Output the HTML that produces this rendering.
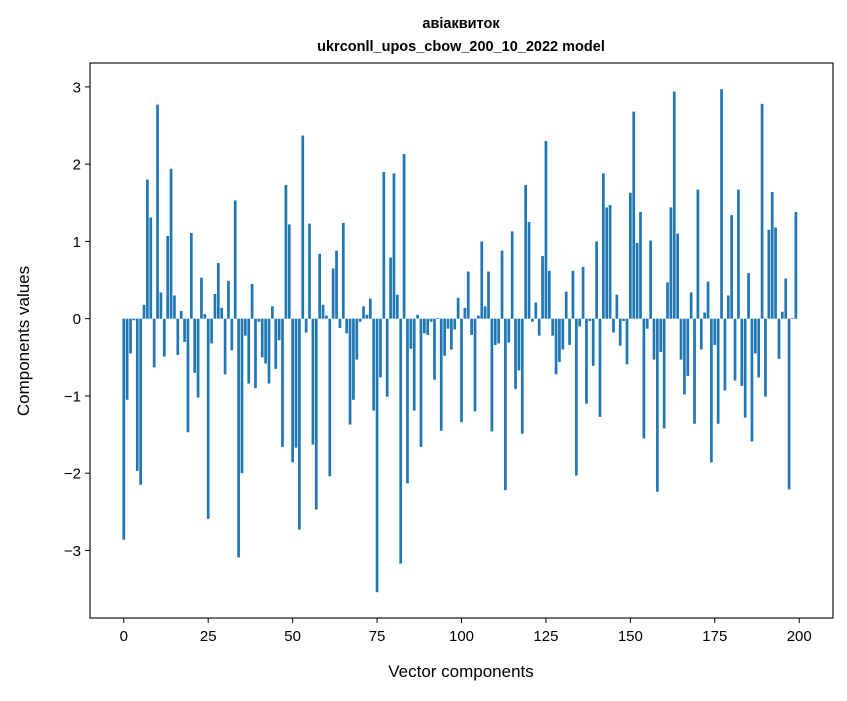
<!DOCTYPE html>
<html><head><meta charset="utf-8"><style>
body{margin:0;background:#fff;}
svg text{font-family:"Liberation Sans","DejaVu Sans",sans-serif;}
</style></head><body>
<svg id="chart" width="847" height="696" viewBox="0 0 847 696" xmlns="http://www.w3.org/2000/svg">
<rect width="847" height="696" fill="#fff"/>
<text x="461" y="28" text-anchor="middle" font-size="14.5" font-weight="bold">авіаквиток</text>
<text x="461" y="51" text-anchor="middle" font-size="14.5" font-weight="bold">ukrconll_upos_cbow_200_10_2022 model</text>
<g id="bars"></g>
<g id="axes"></g>
<text x="461" y="677" text-anchor="middle" font-size="17">Vector components</text>
<text transform="translate(29,341) rotate(-90)" text-anchor="middle" font-size="17">Components values</text>
</svg>
<script>
const values = [
-2.86,-1.05,-0.45,-0.02,-1.97,-2.15,0.18,1.80,1.31,-0.63,
2.77,0.34,-0.49,1.07,1.94,0.30,-0.47,0.10,-0.30,-1.47,
1.11,-0.70,-1.02,0.53,0.06,-2.59,-0.32,0.32,0.72,0.14,
-0.72,0.49,-0.41,1.53,-3.09,-2.00,-0.22,-0.84,0.45,-0.90,
-0.04,-0.50,-0.58,-0.84,0.16,-0.65,-0.28,-1.66,1.73,1.22,
-1.86,-1.67,-2.73,2.37,-0.18,1.23,-1.63,-2.47,0.84,0.18,
0.04,-2.04,0.65,0.88,-0.12,1.24,-0.19,-1.37,-1.05,-0.53,
-0.04,0.16,0.05,0.26,-1.19,-3.54,-0.76,1.90,-1.01,0.79,
1.88,0.31,-3.17,2.13,-2.13,-0.39,-1.19,0.05,-1.66,-0.19,
-0.21,-0.04,-0.79,0.01,-1.45,-0.48,-0.13,-0.40,-0.14,0.27,
-1.34,0.14,0.61,-0.21,-1.20,0.04,1.00,0.16,0.61,-1.46,
-0.34,-0.32,0.88,-2.22,-0.31,1.13,-0.91,-0.67,-1.49,1.73,
1.25,-0.04,0.21,-0.22,0.81,2.30,0.62,-0.22,-0.72,-0.56,
-0.40,0.35,-0.34,0.62,-2.03,-0.10,0.67,-1.10,-0.03,-0.61,
1.00,-1.27,1.88,1.44,1.47,-0.18,0.31,-0.35,-0.03,-0.59,
1.63,2.68,0.98,1.38,-1.55,-0.13,1.01,-0.53,-2.24,-0.43,
-1.42,0.47,1.44,2.94,1.10,-0.53,-0.98,-0.74,0.34,-1.36,
1.67,-0.40,0.08,0.48,-1.86,-0.34,-1.36,2.97,-0.93,0.30,
1.34,-0.80,1.67,-0.87,-1.28,0.59,-1.59,-0.45,-0.76,2.78,
-1.01,1.15,1.64,1.18,-0.52,0.09,0.52,-2.21,0.01,1.38
];
const xTicks = [0,25,50,75,100,125,150,175,200];
const yTicks = [-3,-2,-1,0,1,2,3];
const L=90,R=833,T=63,B=618;
const xMin=-10,xMax=210,yMin=-3.874,yMax=3.309;
function xs(v){return L+(v-xMin)/(xMax-xMin)*(R-L);}
function ys(v){return T+(yMax-v)/(yMax-yMin)*(B-T);}
const NS="http://www.w3.org/2000/svg";
const bars=document.getElementById('bars');
const bw=(xs(0.8)-xs(0));
values.forEach((v,i)=>{
  const r=document.createElementNS(NS,'rect');
  
  
  const y0=ys(0),y1=ys(v);
  r.setAttribute('x',xs(i)-bw/2);
  r.setAttribute('width',bw);
  r.setAttribute('y',Math.min(y0,y1));
  r.setAttribute('height',Math.abs(y1-y0));
  r.setAttribute('fill','#1f77b4');
  bars.appendChild(r);
});
const ax=document.getElementById('axes');
const frame=document.createElementNS(NS,'rect');


frame.setAttribute('x',L);frame.setAttribute('y',T);
frame.setAttribute('width',R-L);frame.setAttribute('height',B-T);
frame.setAttribute('fill','none');frame.setAttribute('stroke','#000');frame.setAttribute('stroke-width','1.1');
ax.appendChild(frame);
xTicks.forEach(t=>{
  const x=xs(t);
  const l=document.createElementNS(NS,'line');
  
  
  l.setAttribute('x1',x);l.setAttribute('x2',x);l.setAttribute('y1',B);l.setAttribute('y2',B+5);
  l.setAttribute('stroke','#000');
  ax.appendChild(l);
  const tx=document.createElementNS(NS,'text');
  
  
  tx.setAttribute('x',x);tx.setAttribute('y',B+23);
  tx.setAttribute('text-anchor','middle');tx.setAttribute('font-size','15');
  tx.textContent=t;
  ax.appendChild(tx);
});
yTicks.forEach(t=>{
  const y=ys(t);
  const l=document.createElementNS(NS,'line');
  
  
  l.setAttribute('x1',L-5);l.setAttribute('x2',L);l.setAttribute('y1',y);l.setAttribute('y2',y);
  l.setAttribute('stroke','#000');
  ax.appendChild(l);
  const tx=document.createElementNS(NS,'text');
  
  
  tx.setAttribute('x',L-9);tx.setAttribute('y',y+5.5);
  tx.setAttribute('text-anchor','end');tx.setAttribute('font-size','15');
  tx.textContent=t<0?'\u2212'+Math.abs(t):String(t);
  ax.appendChild(tx);
});
</script>
</body></html>
